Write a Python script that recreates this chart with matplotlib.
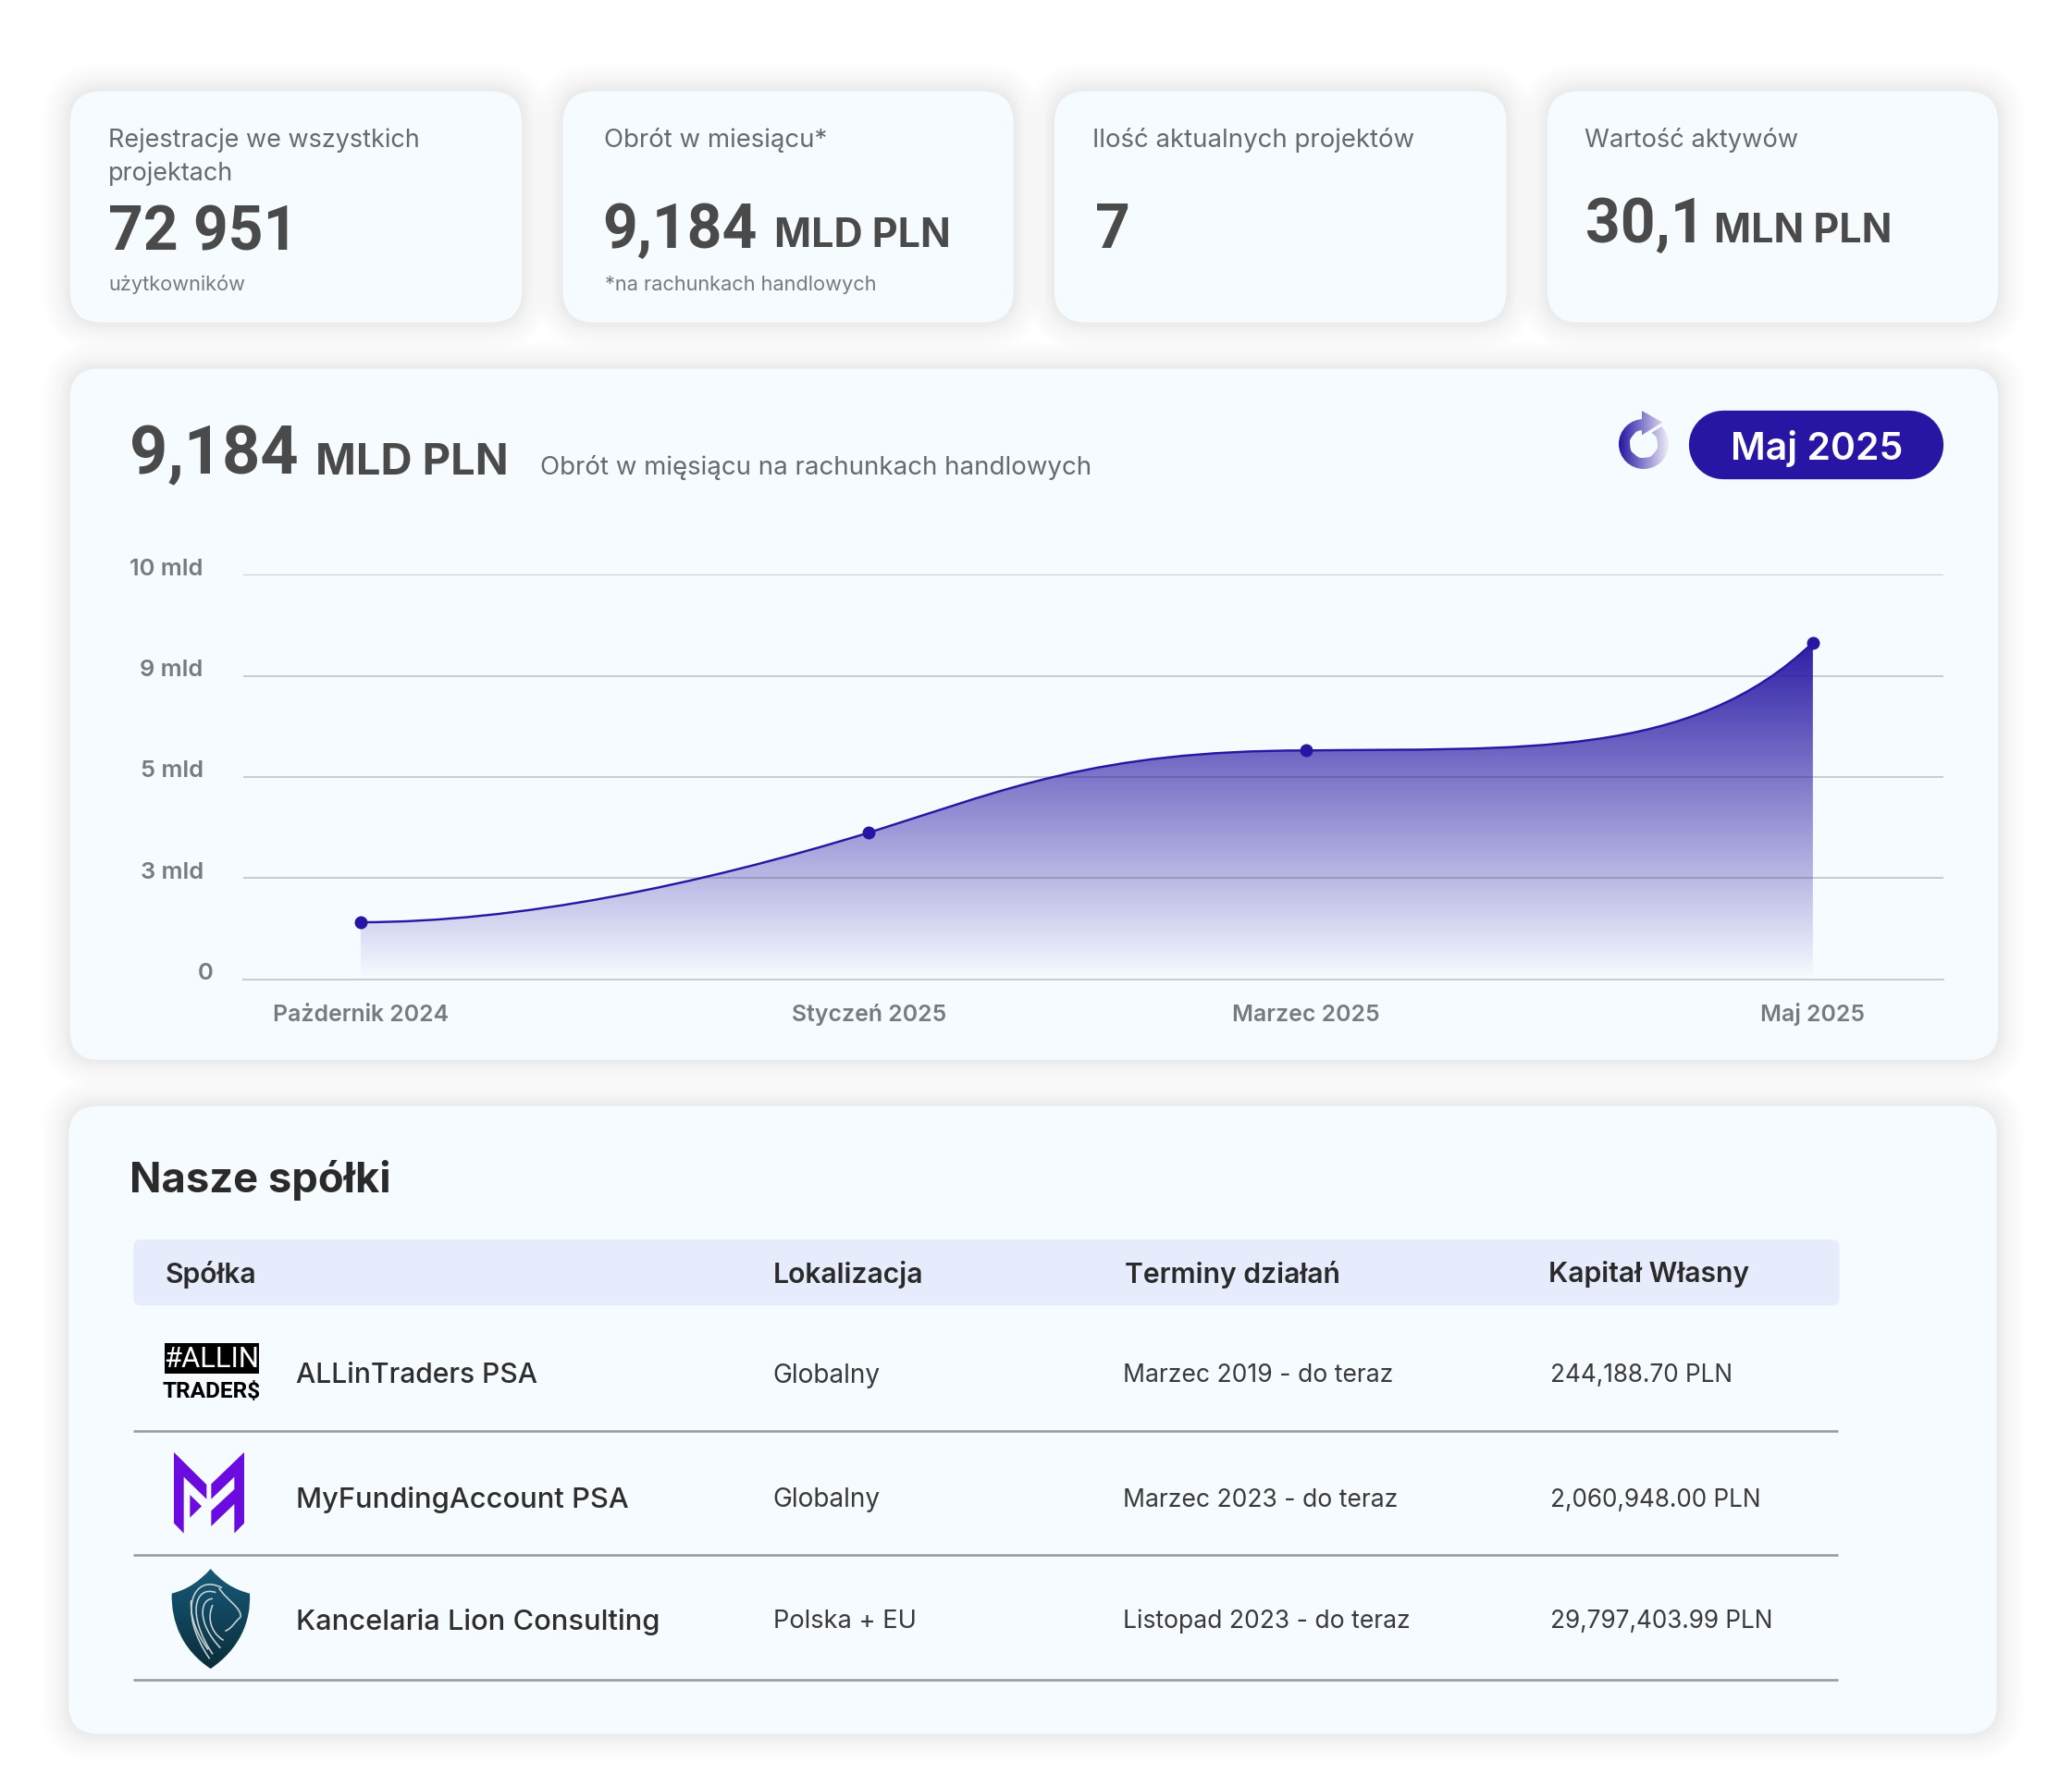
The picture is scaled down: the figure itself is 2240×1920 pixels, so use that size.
import numpy as np
import matplotlib
matplotlib.use("Agg")
import matplotlib.pyplot as plt
from matplotlib.patches import FancyBboxPatch, PathPatch, Polygon, Rectangle
from matplotlib.path import Path
from matplotlib.transforms import ScaledTranslation

plt.rcParams['font.family'] = ['Inter', 'DejaVu Sans']

# chart data
months = ["Pażdernik 2024", "Styczeń 2025", "Marzec 2025", "Maj 2025"]
month_pos = [6.9, 36.8, 62.5, 92.3]
turnover_mld = [1.69, 3.9, 6.05, 9.33]
ytick_values = [0, 3, 5, 9, 10]
ytick_labels = ["0", "3 mld", "5 mld", "9 mld", "10 mld"]

# table data
table_header = ["Spółka", "Lokalizacja", "Terminy działań", "Kapitał Własny"]
companies = ["ALLinTraders PSA", "MyFundingAccount PSA", "Kancelaria Lion Consulting"]
locations = ["Globalny", "Globalny", "Polska + EU"]
periods = ["Marzec 2019 - do teraz", "Marzec 2023 - do teraz", "Listopad 2023 - do teraz"]
equity = ["244,188.70 PLN", "2,060,948.00 PLN", "29,797,403.99 PLN"]

W, H = 2240, 1920
Z = W / 1568  # layout below was measured on the 1568 wide preview
CARD = "#f6fbff"
INDIGO = "#2616a3"
DARK = "#4a4a4a"
GREY = "#666a70"
NUM_FONT = ["Roboto", "DejaVu Sans"]

fig = plt.figure(figsize=(W / 100, H / 100), dpi=100, facecolor="white")
bg = fig.add_axes([0, 0, 1, 1])
bg.set_axis_off()


def pt(px):
    return px * 0.72


def label(x, y, s, size, color=GREY, weight="normal", ha="left", family=None):
    t = bg.text(x * Z, y * Z, s, fontsize=pt(size), color=color, fontweight=weight,
                ha=ha, va="center_baseline", zorder=6)
    if family:
        t.set_family(family)


def card(x0, y0, x1, y1, r):
    x0, y0, x1, y1, r = x0 * Z, y0 * Z, x1 * Z, y1 * Z, r * Z
    # soft shadow from stacked transparent boxes
    for grow in range(30, 0, -2):
        a = 0.007 if grow <= 10 else 0.003
        bg.add_patch(FancyBboxPatch((x0 + r, y0 + r), x1 - x0 - 2 * r, y1 - y0 - 2 * r,
                                    boxstyle=f"round,pad={r + grow},rounding_size={r + grow}",
                                    fc="black", ec="none", alpha=a, zorder=1))
    bg.add_patch(FancyBboxPatch((x0 + r, y0 + r), x1 - x0 - 2 * r, y1 - y0 - 2 * r,
                                boxstyle=f"round,pad={r},rounding_size={r}",
                                fc=CARD, ec="none", zorder=2))


for x0, x1 in [(53, 395), (426, 767), (798, 1140), (1171, 1512)]:
    card(x0, 69, x1, 244, 24)
card(53, 279, 1512, 802, 22)
card(52, 837, 1511, 1312, 22)

# kpi cards
label(82, 104, "Rejestracje we wszystkich", 27)
label(82, 129, "projektach", 27)
label(82, 172, "72 951", 66, DARK, "bold", family=NUM_FONT)
label(82, 214, "użytkowników", 21.8, "#777b80")

label(457, 104, "Obrót w miesiącu*", 27.6)
label(456, 170, "9,184", 66, DARK, "bold", family=NUM_FONT)
label(586, 176, "MLD PLN", 43, DARK, "bold")
label(458, 214, "*na rachunkach handlowych", 21.8, "#777b80")

label(827, 104, "Ilość aktualnych projektów", 27.6)
label(829, 170, "7", 66, DARK, "bold", family=NUM_FONT)

label(1199, 104, "Wartość aktywów", 27.3)
label(1200, 166, "30,1", 66, DARK, "bold", family=NUM_FONT)
label(1297, 172, "MLN PLN", 43, DARK, "bold")

# chart header
label(98, 340, "9,184", 72, DARK, "bold", family=NUM_FONT)
label(239, 347, "MLD PLN", 47, DARK, "bold")
label(409, 352, "Obrót w mięsiącu na rachunkach handlowych", 27.7)

# pill behind the selected month
bg.plot([1304 * Z, 1445 * Z], [336.5 * Z, 336.5 * Z], color=INDIGO, lw=pt(52 * Z),
        solid_capstyle="round", zorder=3)
label(1375, 337, "Maj 2025", 41, "white", "semibold", ha="center")


def gradient_x(extent, colors, clip, steps=64):
    c0, c1 = np.array(colors[0]), np.array(colors[1])
    t = np.linspace(0, 1, steps)[None, :, None]
    im = bg.imshow(c0 + (c1 - c0) * t, extent=extent, aspect="auto", zorder=4)
    im.set_clip_path(clip)


# refresh icon: ring plus arrow head
cx, cy, ro, ri = 1777, 480, 27, 15
ring = Path.make_compound_path(
    Path.circle((cx, cy), ro),
    Path(Path.circle((cx, cy), ri).vertices[::-1], Path.circle((cx, cy), ri).codes),
    Path([(1775, 444), (1798, 457), (1775, 472), (1775, 444)],
         [Path.MOVETO, Path.LINETO, Path.LINETO, Path.CLOSEPOLY]))
ring_patch = PathPatch(ring, fc="none", ec="none", transform=bg.transData)
bg.add_patch(ring_patch)
gradient_x((cx - ro, cx + ro, cy + ro, cy - 38),
           ((0.149, 0.086, 0.639), (0.93, 0.93, 0.97)), ring_patch)
bg.plot([1798, 1774], [458, 473], color=CARD, lw=2.4, zorder=5, solid_capstyle="butt")

# table
label(98, 890, "Nasze spółki", 45.3, "#2a2a2a", "bold")
bg.add_patch(FancyBboxPatch((107 * Z, 944 * Z), 1279 * Z, 38 * Z,
                            boxstyle=f"round,pad={6 * Z},rounding_size={6 * Z}",
                            fc="#e6ecfb", ec="none", zorder=3))
for x, s in zip([125, 585, 851, 1172], table_header):
    label(x, 962.5, s, 30.1, "#2a2a2a", "semibold")

row_y = [1039, 1133, 1225]
rule_y = [1083, 1177, 1271]
name_size = [30, 30.8, 30.8]
loc_size = [28, 28, 27.2]
for i, y in enumerate(row_y):
    label(224, y, companies[i], name_size[i], "#2e2e2e", "medium")
    label(585, y, locations[i], loc_size[i], "#3a3a3a")
    label(850, y, periods[i], 26.5, "#3a3a3a")
    label(1173, y, equity[i], 26.2, "#3a3a3a")
    bg.plot([101 * Z, 1391 * Z], [rule_y[i] * Z] * 2, color="#9a9a9a", lw=pt(2.6),
            zorder=3, solid_capstyle="butt")

# logo 1
bg.add_patch(Rectangle((178, 1452), 102, 33, fc="black", ec="none", zorder=4))
bg.text(229, 1469, "#ALLIN", color="white", fontsize=pt(31), ha="center", va="center", zorder=5,
        family=["Roboto", "Inter"])
bg.text(229, 1504, "TRADER$", color="black", fontsize=pt(24.5), ha="center", va="center", zorder=5,
        fontweight="bold", family=["Roboto", "Inter"])


def crop(points):
    return [(130 + x / 3, 1420 + y / 3) for x, y in points]


PURPLE = "#6b0be0"
for poly in ([(174, 450), (280, 555), (280, 602), (206, 530), (206, 713), (174, 680)],
             [(226, 588), (264, 625), (226, 662)],
             [(402, 450), (295, 553), (295, 602), (370, 530), (370, 570), (295, 640),
              (295, 690), (370, 618), (370, 713), (402, 680)]):
    bg.add_patch(Polygon(crop(poly), closed=True, fc=PURPLE, ec="none", zorder=4))

# logo 3, shield with lion strokes
shield_pts = crop([(293, 828), (240, 890), (167, 908),
                   (165, 1000), (200, 1090), (293, 1152),
                   (385, 1090), (425, 1000), (420, 908),
                   (345, 890), (293, 828), (293, 828)])
shield_path = Path(shield_pts, [Path.MOVETO, Path.CURVE3, Path.CURVE3,
                                Path.CURVE4, Path.CURVE4, Path.CURVE4,
                                Path.CURVE4, Path.CURVE4, Path.CURVE4,
                                Path.CURVE3, Path.CURVE3, Path.CLOSEPOLY])
shield = PathPatch(shield_path, fc="none", ec="none")
bg.add_patch(shield)
sx = np.linspace(0, 1, 32)[:, None] * np.array([-0.05, -0.17, -0.24]) + np.array([0.09, 0.35, 0.47])
im = bg.imshow(sx[:, None, :], extent=(185, 272, 1804, 1696), aspect="auto", zorder=4,
               origin="upper")
im.set_clip_path(shield)
for stroke in ([(330, 890), (240, 840), (180, 960), (290, 1120)],
               [(310, 905), (240, 880), (215, 980), (300, 1105)],
               [(300, 925), (260, 925), (245, 1000), (325, 1085)],
               [(300, 945), (285, 975), (285, 1030), (335, 1060)],
               [(320, 890), (345, 930), (395, 955), (390, 985)],
               [(390, 985), (370, 1000), (365, 1020), (340, 1030)],
               [(230, 930), (225, 990), (255, 1050), (285, 1090)]):
    bg.add_patch(PathPatch(Path(crop(stroke), [Path.MOVETO, Path.CURVE4, Path.CURVE4, Path.CURVE4]),
                           fc="none", ec="#c9d3d8", lw=pt(1.6), zorder=5))

bg.set_xlim(0, W)
bg.set_ylim(H, 0)

# chart
left, right, top, bottom = 184 * Z, 1471 * Z, 435 * Z, 741 * Z
ax = fig.add_axes([left / W, 1 - bottom / H, (right - left) / W, (bottom - top) / H])
ax.patch.set_alpha(0)
# y axis is evenly spaced by tick, not linear in value
y_pos = np.interp(turnover_mld, ytick_values, np.arange(len(ytick_values)))
ax.set_xlim(0, 100)
ax.set_ylim(0, 4)

# bezier handles of the smoothed line, one pair per segment (dx, dy)
out_handle = [(9.3, 0.0), (7.9, 0.418), (12.5, 0.026)]
in_handle = [(-10.1, -0.52), (-12.4, 0.0), (-7.15, -1.16)]
verts = [(month_pos[0], y_pos[0])]
for i in range(3):
    verts.append((month_pos[i] + out_handle[i][0], y_pos[i] + out_handle[i][1]))
    verts.append((month_pos[i + 1] + in_handle[i][0], y_pos[i + 1] + in_handle[i][1]))
    verts.append((month_pos[i + 1], y_pos[i + 1]))
codes = [Path.MOVETO] + [Path.CURVE4] * 9
line = Path(verts, codes)
area = Path(verts + [(month_pos[-1], 0), (month_pos[0], 0), verts[0]],
            codes + [Path.LINETO, Path.LINETO, Path.CLOSEPOLY])

area_patch = PathPatch(area, fc="none", ec="none", zorder=2)
ax.add_patch(area_patch)
alpha = np.linspace(0.96, 0.0, 256)[:, None]
rgba = np.dstack([np.full_like(alpha, 0.149), np.full_like(alpha, 0.086),
                  np.full_like(alpha, 0.639), alpha])
fill = ax.imshow(rgba, extent=(month_pos[0], month_pos[-1], 0, y_pos[-1]), aspect="auto",
                 zorder=2, origin="upper")
fill.set_clip_path(area_patch)
ax.set_xlim(0, 100)
ax.set_ylim(0, 4)

ax.add_patch(PathPatch(line, fc="none", ec=INDIGO, lw=pt(2.4), zorder=3))
ax.plot(month_pos, y_pos, "o", color=INDIGO, ms=pt(14), mew=0, zorder=4, clip_on=False)

ax.set_yticks(np.arange(len(ytick_labels)))
ax.set_yticklabels(ytick_labels)
ax.set_xticks(month_pos)
ax.set_xticklabels(months, va="baseline")
ax.grid(axis="y", color="#c9cdd2", lw=pt(2), zorder=0)
ax.set_axisbelow(True)
ax.tick_params(axis="y", length=0, labelsize=pt(25.5), labelcolor="#777b80", pad=pt(43))
ax.tick_params(axis="x", length=0, labelsize=pt(24.8), labelcolor="#777b80", pad=pt(45))
ax.yaxis.get_major_ticks()[0].set_pad(pt(32))
for tl in ax.get_xticklabels() + ax.get_yticklabels():
    tl.set_fontweight("semibold")
up = ScaledTranslation(0, 6.2 / 72, fig.dpi_scale_trans)
for tl in ax.get_yticklabels():
    tl.set_transform(tl.get_transform() + up)
for side in ("top", "left", "right"):
    ax.spines[side].set_visible(False)
ax.spines["bottom"].set_color("#c9cdd2")
ax.spines["bottom"].set_linewidth(pt(2))

fig.savefig("out.png", dpi=100, facecolor="white")
